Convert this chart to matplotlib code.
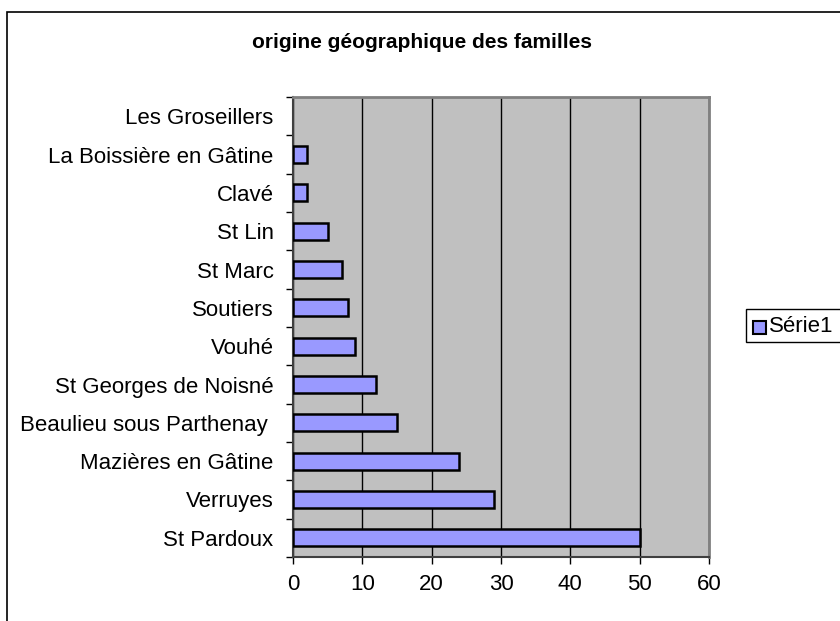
import matplotlib.pyplot as plt
from matplotlib.patches import Rectangle
import numpy as np

plt.rcParams['font.family'] = ['Liberation Sans', 'DejaVu Sans']

# bottom to top, as drawn
communes = ['St Pardoux', 'Verruyes', 'Mazières en Gâtine', 'Beaulieu sous Parthenay ',
            'St Georges de Noisné', 'Vouhé', 'Soutiers', 'St Marc', 'St Lin', 'Clavé',
            'La Boissière en Gâtine', 'Les Groseillers']
familles = [50, 29, 24, 15, 12, 9, 8, 7, 5, 2, 2, 0]
x_ticks = [0, 10, 20, 30, 40, 50, 60]
titre = 'origine géographique des familles'
serie = 'Série1'

W, H = 840, 621
fig = plt.figure(figsize=(W / 100, H / 100), dpi=100)

# outer chart frame (cut by the image edges on right and bottom)
fig.patches.append(Rectangle((7 / W, -0.05), 1.1, 1 - 12 / H + 0.05, transform=fig.transFigure,
                             fill=False, edgecolor='black', linewidth=1.2))

ax = fig.add_axes([293 / W, 1 - 557 / H, (709 - 293) / W, (557 - 97) / H])
ax.set_facecolor('#C0C0C0')

y = np.arange(len(communes))
edges = ['black' if v > 0 else 'none' for v in familles]
ax.barh(y, familles, height=0.45, color='#9999FF', edgecolor=edges, linewidth=1.8, zorder=3)

ax.set_xlim(0, 60)
ax.set_ylim(-0.5, len(communes) - 0.5)
ax.set_xticks(x_ticks)
ax.set_xticklabels([str(v) for v in x_ticks], fontsize=16)
ax.set_yticks(y)
ax.set_yticklabels(communes, fontsize=16)
ax.tick_params(axis='y', which='major', length=0, pad=14)
ax.set_yticks(np.arange(-0.5, len(communes), 1), minor=True)
ax.tick_params(axis='y', which='minor', length=5, width=1, direction='out')
ax.tick_params(axis='x', which='major', length=5, width=1, direction='out', pad=7)

ax.xaxis.grid(True, color='black', linewidth=1, zorder=1)
ax.set_axisbelow(True)

for s in ['top', 'right']:
    ax.spines[s].set_color('#808080')
    ax.spines[s].set_linewidth(2)
ax.spines['left'].set_color('#404040')
ax.spines['bottom'].set_color('#404040')
ax.spines['left'].set_linewidth(1.5)
ax.spines['bottom'].set_linewidth(1.5)

fig.text(422 / W, 1 - 42 / H, titre, ha='center', va='center', fontsize=15, fontweight='bold')

# legend box, drawn like Excel's (extends past the right edge)
fig.patches.append(Rectangle((746 / W, 1 - 342 / H), 0.2, 33 / H, transform=fig.transFigure,
                             facecolor='white', edgecolor='black', linewidth=1))
fig.patches.append(Rectangle((753 / W, 1 - 334 / H), 13 / W, 13 / H, transform=fig.transFigure,
                             facecolor='#9999FF', edgecolor='black', linewidth=1.5))
fig.text(769 / W, 1 - 327 / H, serie, ha='left', va='center', fontsize=16)

fig.savefig('out.png', dpi=100)
